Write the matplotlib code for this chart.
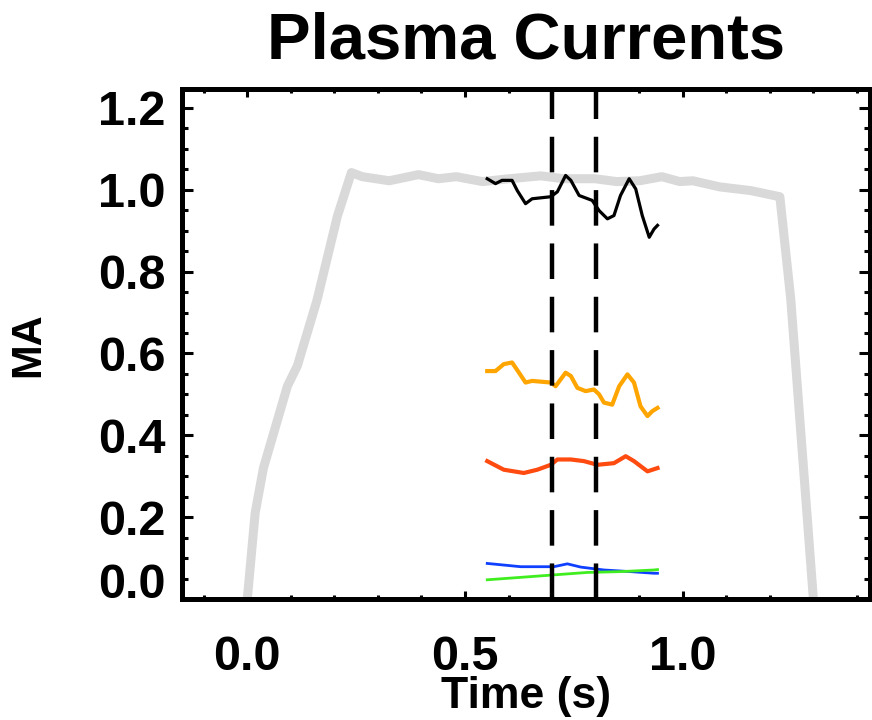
import matplotlib
matplotlib.use("Agg")
from matplotlib import pyplot as plt
from matplotlib.ticker import MultipleLocator, FormatStrFormatter
import matplotlib.transforms as mtransforms

# total plasma current (grey)
t_ip = [0.0, 0.018, 0.037, 0.092, 0.115, 0.16, 0.207, 0.239, 0.264, 0.326, 0.393, 0.439,
        0.48, 0.54, 0.602, 0.674, 0.726, 0.798, 0.848, 0.901, 0.952, 0.993, 1.023,
        1.085, 1.156, 1.214, 1.223, 1.248, 1.30]
ip = [0.0, 0.21, 0.32, 0.52, 0.57, 0.73, 0.936, 1.042, 1.032, 1.022, 1.037, 1.027,
      1.032, 1.02, 1.027, 1.034, 1.027, 1.027, 1.02, 1.022, 1.032, 1.02, 1.022,
      1.007, 0.998, 0.985, 0.983, 0.733, 0.0]

t_blk = [0.551, 0.570, 0.585, 0.608, 0.620, 0.639, 0.654, 0.697, 0.712, 0.731, 0.743,
         0.762, 0.792, 0.808, 0.827, 0.842, 0.857, 0.877, 0.892, 0.907, 0.923, 0.934, 0.942]
blk = [1.027, 1.015, 1.023, 1.023, 0.998, 0.966, 0.978, 0.983, 0.995, 1.035, 1.023,
       0.986, 0.974, 0.949, 0.929, 0.937, 0.986, 1.027, 1.002, 0.937, 0.884, 0.904, 0.913]

t_org = [0.551, 0.570, 0.589, 0.608, 0.624, 0.639, 0.654, 0.697, 0.708, 0.731, 0.743,
         0.758, 0.777, 0.796, 0.808, 0.819, 0.838, 0.854, 0.873, 0.888, 0.903, 0.919, 0.930, 0.942]
org = [0.557, 0.557, 0.574, 0.578, 0.553, 0.529, 0.533, 0.529, 0.520, 0.553, 0.545,
       0.516, 0.508, 0.512, 0.500, 0.480, 0.475, 0.520, 0.549, 0.529, 0.471, 0.447, 0.459, 0.467]

t_red = [0.551, 0.589, 0.635, 0.666, 0.697, 0.712, 0.743, 0.773, 0.804, 0.842, 0.869,
         0.888, 0.919, 0.942]
red = [0.337, 0.316, 0.308, 0.316, 0.328, 0.341, 0.341, 0.337, 0.328, 0.332, 0.349,
       0.337, 0.312, 0.320]

t_blu = [0.551, 0.628, 0.704, 0.735, 0.766, 0.819, 0.880, 0.934, 0.942]
blu = [0.087, 0.079, 0.079, 0.086, 0.078, 0.071, 0.067, 0.063, 0.063]

t_grn = [0.551, 0.628, 0.704, 0.781, 0.857, 0.934, 0.942]
grn = [0.047, 0.053, 0.059, 0.065, 0.067, 0.071, 0.072]

t_marks = [0.7, 0.8]

plt.rcParams['font.family'] = ['Liberation Sans', 'DejaVu Sans']
plt.rcParams['font.weight'] = 'bold'

fig = plt.figure(figsize=(8.72, 7.2), dpi=100)
ax = fig.add_axes([0.2087, 0.168, 0.789, 0.7077])

ax.plot(t_ip, ip, color='#d9d9d9', lw=6.5, solid_joinstyle='round')
ax.plot(t_blk, blk, color='black', lw=2.3)
ax.plot(t_org, org, color='#ffa500', lw=3.0)
ax.plot(t_red, red, color='#ff4a10', lw=3.0)
ax.plot(t_blu, blu, color='#1040ff', lw=2.0)
ax.plot(t_grn, grn, color='#40ee20', lw=2.0)
for tm in t_marks:
    ax.axvline(tm, color='black', lw=3.2, ls=(0, (8, 4)))

ax.set_xlim(-0.15, 1.43)
ax.set_ylim(0.0, 1.245)
ax.xaxis.set_major_locator(MultipleLocator(0.5))
ax.xaxis.set_minor_locator(MultipleLocator(0.1))
ax.yaxis.set_major_locator(MultipleLocator(0.2))
ax.yaxis.set_minor_locator(MultipleLocator(0.05))
ax.xaxis.set_major_formatter(FormatStrFormatter('%.1f'))
ax.yaxis.set_major_formatter(FormatStrFormatter('%.1f'))

for s in ax.spines.values():
    s.set_linewidth(3.6)
ax.tick_params(which='both', direction='in', top=True, right=True, width=2.2,
               labelsize=35)
ax.tick_params(axis='y', which='major', length=8, pad=12)
ax.tick_params(axis='y', which='minor', length=4.5)
ax.tick_params(axis='x', which='major', length=6, pad=26)
ax.tick_params(axis='x', which='minor', length=3)

ax.set_title('Plasma Currents', fontsize=47, fontweight='bold', pad=22)
ax.set_xlabel('Time (s)', fontsize=32, fontweight='bold', va='bottom')
# keep the x label inside the bottom edge of the figure
ax.xaxis.set_label_coords(0.5, (3 / 720 - 0.168) / 0.7077)
ax.set_ylabel('MA', fontsize=30, fontweight='bold', labelpad=36)

fig.canvas.draw()
# lift the 0.0 label off the bottom edge like the original
lift = mtransforms.ScaledTranslation(0, 19 / 100, fig.dpi_scale_trans)
for tick in ax.yaxis.get_major_ticks():
    if abs(tick.get_loc()) < 1e-9:
        tick.label1.set_transform(tick.label1.get_transform() + lift)

fig.savefig('out.png', dpi=100)
